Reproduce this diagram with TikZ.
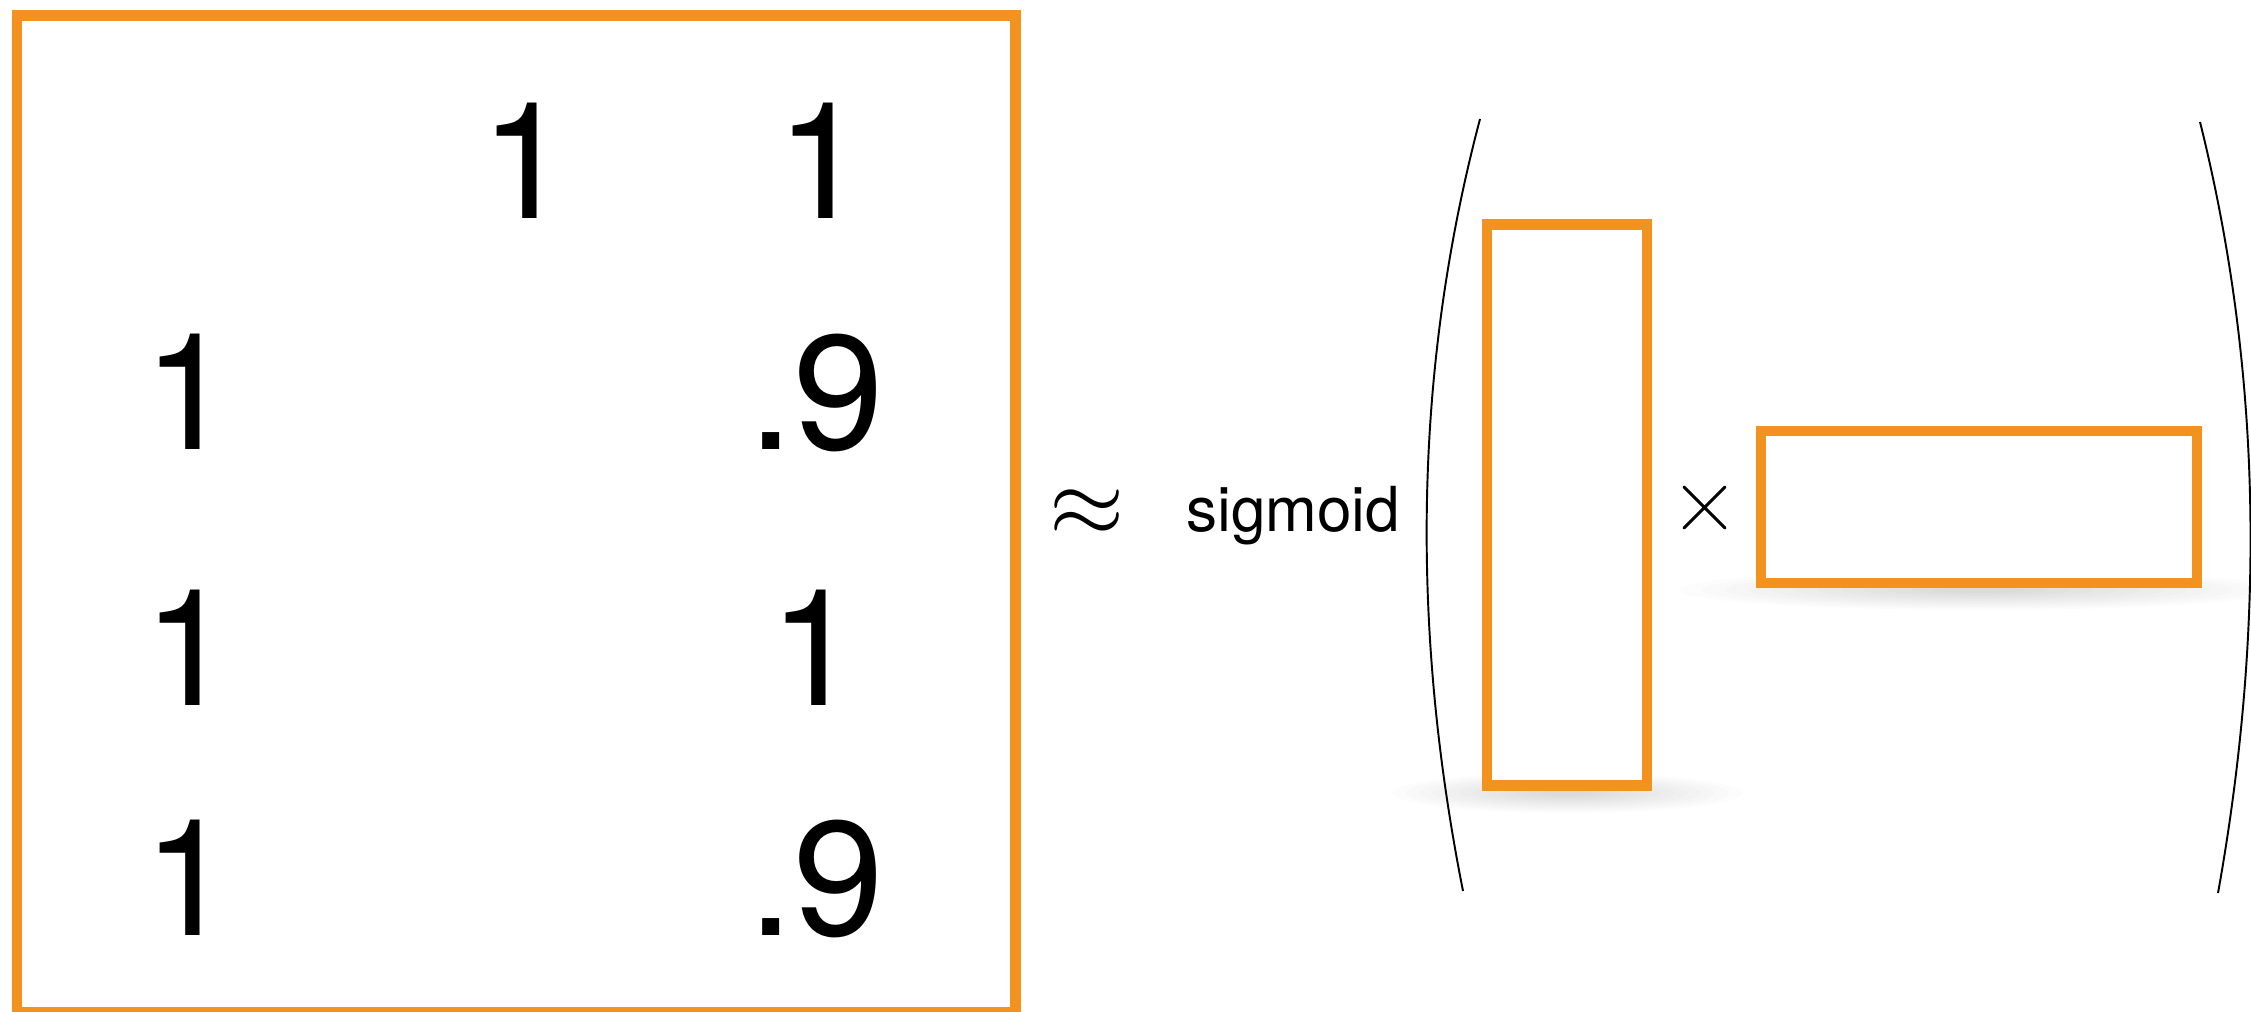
\documentclass[tikz,border=0pt]{standalone}
\usepackage{fontspec}
\setmainfont{TeX Gyre Heros}
\definecolor{orng}{RGB}{243,146,31}
\newcommand{\softshadow}[4]{%
  \foreach \k in {0,...,11}{%
    \pgfmathsetmacro{\rxx}{#3*(1-\k/13)}%
    \pgfmathsetmacro{\ryy}{#4*(1-\k/13)}%
    \fill[black, opacity=0.012] (#1,#2) ellipse [x radius=\rxx, y radius=\ryy];
  }%
}
\begin{document}
\begin{tikzpicture}[x=0.02cm,y=-0.02cm,
  obox/.style={draw=orng, line width=6pt, fill=white, inner sep=0pt},
  bignum/.style={font=\fontsize{92.7pt}{100pt}\selectfont, inner sep=0pt, anchor=base west},
  parenline/.style={line width=1.1pt, black},
  timesline/.style={line width=1.7pt, line cap=round, black}]
\useasboundingbox (0,0) rectangle (2251,1011);

% soft shadows
\softshadow{517}{1022}{560}{18}
\softshadow{1567}{793}{175}{20}
\softshadow{1979}{590}{300}{20}

% big matrix box
\node[obox, minimum width=19.97cm, minimum height=19.93cm] (big) at (516.25,513.75) {};

% numbers
\node[bignum] (n12) at (480,218) {1};
\node[bignum] (n13) at (776,218) {1};
\node[bignum] (n21) at (143,449) {1};
\node[bignum] (n23) at (748,449) {.9};
\node[bignum] (n31) at (143,705) {1};
\node[bignum] (n33) at (769,705) {1};
\node[bignum] (n41) at (143,935) {1};
\node[bignum] (n43) at (748,935) {.9};

% approx and sigmoid
\node[scale=5.5, inner sep=0pt] (approx) at (1087,513) {$\approx$};
\node[font=\fontsize{35.3pt}{40pt}\selectfont, inner sep=0pt, anchor=base west] (sig) at (1186,531) {sigmoid};

% parentheses
\draw[parenline] (1480,119) .. controls (1412,376) and (1412,634) .. (1463,891);
\draw[parenline] (2200,122) .. controls (2264,379) and (2264,636) .. (2218,893);

% factor boxes
\node[obox, minimum width=3.2cm, minimum height=11.22cm] (tall) at (1567,505) {};
\node[obox, minimum width=8.72cm, minimum height=3.04cm] (wide) at (1979,507) {};

% times sign
\draw[timesline] (1684,487) -- (1725,528) (1684,528) -- (1725,487);
\end{tikzpicture}
\end{document}
